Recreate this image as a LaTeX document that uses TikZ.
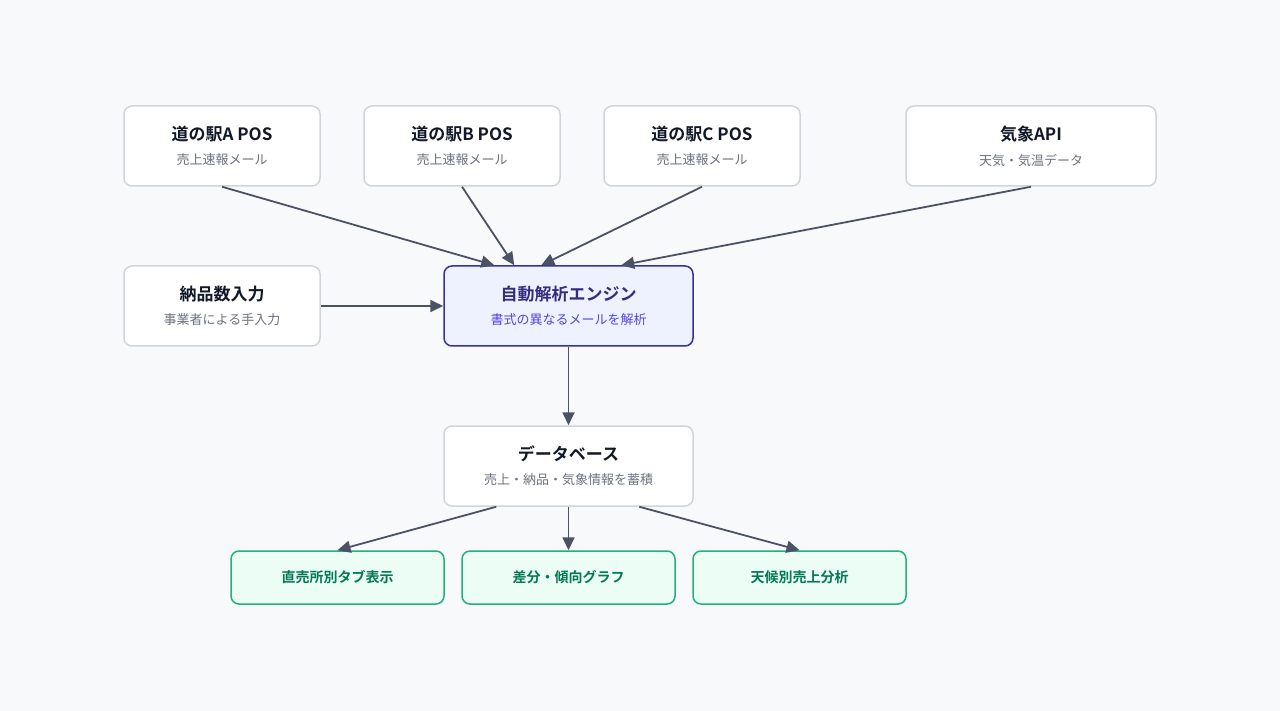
\documentclass[tikz,border=0pt]{standalone}
\usepackage{fontspec}
\setmainfont{Noto Sans CJK JP}[BoldFont={Noto Sans CJK JP Bold}]
\usetikzlibrary{arrows.meta}

\definecolor{bgcol}{HTML}{F8F9FB}
\definecolor{boxline}{HTML}{D1D5DB}
\definecolor{titlecol}{HTML}{111827}
\definecolor{subcol}{HTML}{6B7280}
\definecolor{arrowcol}{HTML}{4A5263}
\definecolor{enginefill}{HTML}{EEF2FF}
\definecolor{engineline}{HTML}{3730A3}
\definecolor{enginetitle}{HTML}{312E81}
\definecolor{enginesub}{HTML}{4F46E5}
\definecolor{outfill}{HTML}{ECFDF5}
\definecolor{outline}{HTML}{22B07D}
\definecolor{outtext}{HTML}{047857}

\newcommand{\boxtext}[2]{{\fontsize{17}{20}\selectfont\bfseries #1}\\[11pt]{\fontsize{13}{15}\selectfont\color{subcol}#2}}

\begin{document}
\begin{tikzpicture}
	[x=1pt, y=-1pt,
	source/.style ={rectangle, rounded corners=8pt, draw=boxline, fill=white, line width=1.5pt, minimum width=196pt, minimum height=80pt, align=center, text=titlecol, inner sep=0pt},%
	engine/.style ={source, draw=engineline, fill=enginefill, text=enginetitle, minimum width=249pt},%
	result/.style ={rectangle, rounded corners=8pt, draw=outline, fill=outfill, line width=1.5pt, minimum width=213pt, minimum height=53pt, text=outtext, font=\fontsize{14}{16}\selectfont\bfseries},%
	flow/.style   ={-{Triangle[length=13pt,width=12pt]}, draw=arrowcol, line width=1.8pt},%
	]

	% background
	\fill [bgcol] (0,0) rectangle (1280,711);
	\useasboundingbox (0,0) rectangle (1280,711);

	% sources
	\node (posA) at (222,146) [source] {\boxtext{道の駅A POS}{売上速報メール}};
	\node (posB) at (462,146) [source] {\boxtext{道の駅B POS}{売上速報メール}};
	\node (posC) at (702,146) [source] {\boxtext{道の駅C POS}{売上速報メール}};
	\node (weather) at (1031,146) [source, minimum width=250pt] {\boxtext{気象API}{天気・気温データ}};
	\node (delivery) at (222,306) [source] {\boxtext{納品数入力}{事業者による手入力}};

	% engine and database
	\node (engine) at (568.5,306) [engine] {{\fontsize{17}{20}\selectfont\bfseries 自動解析エンジン}\\[11pt]{\fontsize{13}{15}\selectfont\color{enginesub}書式の異なるメールを解析}};
	\node (db) at (568.5,466) [source, minimum width=249pt] {\boxtext{データベース}{売上・納品・気象情報を蓄積}};

	% outputs
	\node (tabs)    at (337.5,577.5) [result] {直売所別タブ表示};
	\node (trend)   at (568.5,577.5) [result] {差分・傾向グラフ};
	\node (climate) at (799.5,577.5) [result] {天候別売上分析};

	% connections
	\draw [flow] (posA.south) to ([xshift=51pt]engine.north west);
	\draw [flow] (posB.south) to ([xshift=71pt]engine.north west);
	\draw [flow] (posC.south) to ([xshift=98pt]engine.north west);
	\draw [flow] (weather.south) to ([xshift=178pt]engine.north west);
	\draw [flow] (delivery.east) to (engine.west);

	\draw [flow] (engine.south) to (db.north);

	\draw [flow] ([xshift=53pt]db.south west) to (tabs.north);
	\draw [flow] (db.south) to (trend.north);
	\draw [flow] ([xshift=196pt]db.south west) to (climate.north);

\end{tikzpicture}
\end{document}
